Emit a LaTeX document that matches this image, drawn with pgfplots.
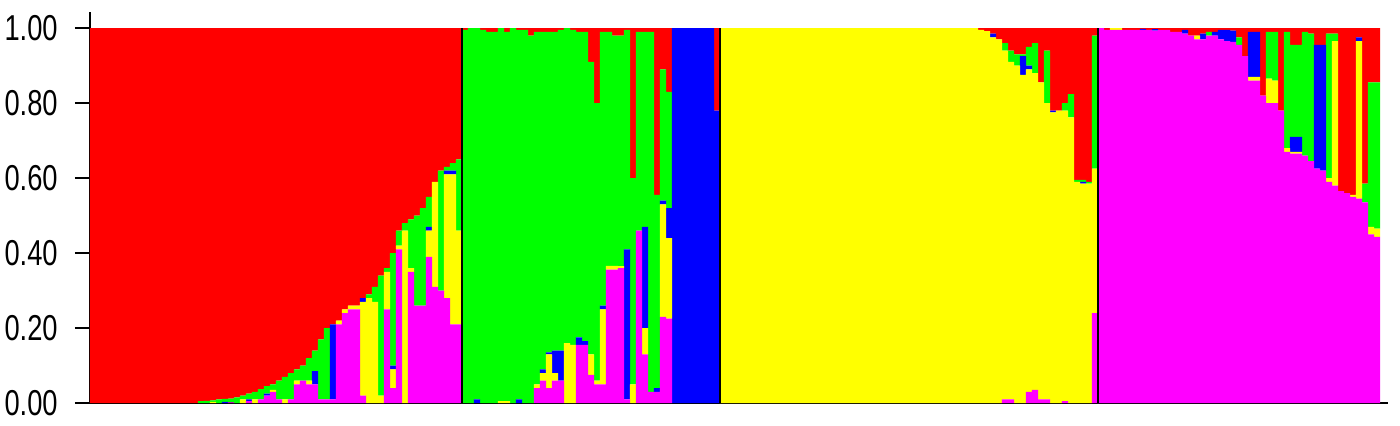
\documentclass[border=0pt]{standalone}
\usepackage{fontspec}
\setmainfont{Liberation Sans}
\usepackage{pgfplots}
\usepackage{pgfplotstable}
\pgfplotsset{compat=1.18}

\definecolor{cMag}{HTML}{FF00FF}
\definecolor{cYel}{HTML}{FFFF00}
\definecolor{cBlu}{HTML}{0000FF}
\definecolor{cGrn}{HTML}{00FF00}
\definecolor{cRed}{HTML}{FF0000}

% one row per individual: membership in each cluster (m=magenta, y=yellow, b=blue, g=green, r=red)
\pgfplotstableread{
i m y b g r
1 0 0 0 0 1
2 0 0 0 0 1
3 0 0 0 0 1
4 0 0 0 0 1
5 0 0 0 0 1
6 0 0 0 0 1
7 0 0 0 0 1
8 0 0 0 0 1
9 0 0 0 0 1
10 0 0 0 0 1
11 0 0 0 0 1
12 0 0 0 0 1
13 0 0 0 0 1
14 0 0 0 0 1
15 0 0 0 0 1
16 0 0 0 0 1
17 0 0 0 0 1
18 0 0 0 0 1
19 0 0 0 0.005 0.995
20 0 0 0 0.006 0.994
21 0 0.003 0 0.004 0.993
22 0 0 0 0.01 0.99
23 0 0 0.003 0.008 0.989
24 0.002 0 0 0.01 0.988
25 0 0 0 0.015 0.985
26 0 0.01 0 0.01 0.98
27 0.005 0 0.005 0.015 0.975
28 0 0.01 0 0.02 0.97
29 0.01 0 0 0.027 0.963
30 0.02 0 0.005 0.02 0.955
31 0.03 0.005 0 0.015 0.95
32 0.01 0 0 0.05 0.94
33 0 0.01 0 0.06 0.93
34 0.01 0 0 0.07 0.92
35 0.05 0.01 0 0.03 0.91
36 0.06 0 0 0.04 0.90
37 0.05 0.01 0 0.06 0.88
38 0.05 0 0.035 0.055 0.86
39 0.01 0 0 0.16 0.83
40 0.01 0 0 0.19 0.80
41 0.01 0 0.2 0 0.79
42 0.21 0.01 0 0 0.78
43 0.24 0.01 0 0 0.75
44 0.25 0.01 0 0 0.74
45 0.25 0.01 0 0 0.74
46 0.02 0.25 0.01 0 0.72
47 0 0.28 0 0.01 0.71
48 0 0.27 0 0.04 0.69
49 0 0.02 0 0.32 0.66
50 0.25 0.1 0 0.01 0.64
51 0.04 0.05 0.01 0.30 0.60
52 0.41 0.01 0 0.04 0.54
53 0 0.46 0 0.02 0.52
54 0.35 0.01 0 0.13 0.51
55 0.26 0 0 0.24 0.50
56 0.26 0 0 0.26 0.48
57 0.39 0.07 0.01 0.08 0.45
58 0.31 0.28 0 0 0.41
59 0.30 0 0 0.32 0.38
60 0.28 0.33 0.01 0.01 0.37
61 0.21 0.40 0.01 0.02 0.36
62 0.21 0.25 0 0.19 0.35
63 0 0 0 0.995 0.005
64 0 0 0 1 0
65 0 0 0.01 0.99 0
66 0 0 0 0.995 0.005
67 0 0 0 0.99 0.01
68 0 0 0 0.99 0.01
69 0 0.005 0 0.995 0
70 0 0.005 0 0.985 0.01
71 0 0 0 1 0
72 0 0 0.01 0.985 0.005
73 0 0 0 0.995 0.005
74 0 0 0 0.98 0.02
75 0.04 0.01 0 0.94 0.01
76 0.06 0.02 0.01 0.9 0.01
77 0.04 0.09 0.005 0.855 0.01
78 0.06 0.02 0.06 0.85 0.01
79 0.06 0 0.08 0.855 0.005
80 0 0.16 0 0.84 0
81 0 0.155 0 0.84 0.005
82 0.155 0 0.02 0.815 0.01
83 0.155 0 0.01 0.825 0.01
84 0.075 0.055 0 0.78 0.09
85 0.05 0.01 0 0.74 0.2
86 0.05 0.2 0.01 0.73 0.01
87 0.356 0.01 0 0.624 0.01
88 0.356 0.01 0 0.614 0.02
89 0.36 0.005 0 0.615 0.02
90 0.01 0 0.40 0.585 0.005
91 0 0.05 0 0.55 0.4
92 0.46 0 0 0.53 0.01
93 0.13 0.07 0.27 0.52 0.01
94 0.03 0 0 0.96 0.01
95 0.03 0 0.01 0.515 0.445
96 0.23 0.3 0.01 0.35 0.11
97 0.225 0.215 0.08 0.31 0.17
98 0 0 1 0 0
99 0 0 1 0 0
100 0 0 1 0 0
101 0 0 1 0 0
102 0 0 1 0 0
103 0 0 1 0 0
104 0 0 1 0 0
105 0 0 0.78 0 0.22
106 0 1 0 0 0
107 0 1 0 0 0
108 0 1 0 0 0
109 0 1 0 0 0
110 0 1 0 0 0
111 0 1 0 0 0
112 0 1 0 0 0
113 0 1 0 0 0
114 0 1 0 0 0
115 0 1 0 0 0
116 0 1 0 0 0
117 0 1 0 0 0
118 0 1 0 0 0
119 0 1 0 0 0
120 0 1 0 0 0
121 0 1 0 0 0
122 0 1 0 0 0
123 0 1 0 0 0
124 0 1 0 0 0
125 0 1 0 0 0
126 0 1 0 0 0
127 0 1 0 0 0
128 0 1 0 0 0
129 0 1 0 0 0
130 0 1 0 0 0
131 0 1 0 0 0
132 0 1 0 0 0
133 0 1 0 0 0
134 0 1 0 0 0
135 0 1 0 0 0
136 0 1 0 0 0
137 0 1 0 0 0
138 0 1 0 0 0
139 0 1 0 0 0
140 0 1 0 0 0
141 0 1 0 0 0
142 0 1 0 0 0
143 0 1 0 0 0
144 0 1 0 0 0
145 0 1 0 0 0
146 0 1 0 0 0
147 0 1 0 0 0
148 0 1 0 0 0
149 0 0.995 0 0 0.005
150 0 0.992 0 0 0.008
151 0 0.975 0.01 0 0.015
152 0 0.97 0 0 0.03
153 0.01 0.93 0 0.02 0.04
154 0.01 0.90 0 0.03 0.06
155 0 0.90 0 0.03 0.07
156 0 0.875 0.05 0.005 0.07
157 0.03 0.86 0.01 0.05 0.05
158 0.035 0.845 0 0.08 0.04
159 0.01 0.845 0 0 0.145
160 0.01 0.79 0 0.14 0.06
161 0 0.775 0.005 0 0.22
162 0 0.78 0 0 0.22
163 0.005 0.775 0 0.02 0.2
164 0 0.762 0 0.062 0.176
165 0 0.59 0 0.005 0.405
166 0 0.585 0.005 0.005 0.405
167 0 0.585 0 0.005 0.41
168 0.24 0.385 0 0.355 0.02
169 1 0 0 0 0
170 0.995 0 0 0 0.005
171 0.995 0.005 0 0 0
172 0.995 0.005 0 0 0
173 0.995 0 0 0 0.005
174 0.995 0 0 0 0.005
175 0.995 0 0 0 0.005
176 0.995 0 0.003 0 0.002
177 0.995 0 0 0 0.005
178 0.993 0 0.004 0 0.003
179 0.995 0 0 0 0.005
180 0.995 0 0 0 0.005
181 0.99 0 0 0 0.01
182 0.99 0 0 0 0.01
183 0.985 0 0.01 0 0.005
184 0.98 0 0 0 0.02
185 0.97 0.01 0 0 0.02
186 0.97 0 0.015 0 0.015
187 0.98 0 0 0.01 0.01
188 0.98 0 0.01 0 0.01
189 0.97 0 0.025 0 0.005
190 0.965 0 0.03 0 0.005
191 0.963 0 0.03 0 0.007
192 0.955 0 0 0.02 0.025
193 0.925 0 0 0 0.075
194 0.86 0.01 0.12 0 0.01
195 0.86 0.01 0.12 0 0.01
196 0.82 0 0 0 0.18
197 0.80 0.065 0 0.125 0.01
198 0.80 0.06 0 0.13 0.01
199 0.78 0 0 0 0.22
200 0.67 0.01 0 0.31 0.01
201 0.665 0.005 0.04 0.245 0.045
202 0.665 0.005 0.04 0.245 0.045
203 0.66 0 0 0.33 0.01
204 0.645 0 0 0.34 0.015
205 0.625 0 0.33 0 0.045
206 0.62 0 0.335 0 0.045
207 0.59 0.01 0 0.385 0.015
208 0.58 0.385 0 0.02 0.015
209 0.565 0 0 0 0.435
210 0.56 0 0 0 0.44
211 0.55 0.005 0 0 0.445
212 0.545 0.42 0.01 0 0.025
213 0.535 0 0 0.05 0.415
214 0.45 0.02 0 0.385 0.145
215 0.443 0.022 0 0.39 0.145
}\qdata

\begin{document}
\begin{tikzpicture}
\begin{axis}[
  name=ax,
  scale only axis, width=649pt, height=195.5pt,
  xmin=0.5, xmax=216.83, ymin=0, ymax=1.0427,
  enlargelimits=false,
  ybar stacked, bar width=1.05,
  axis x line*=bottom, axis y line*=left,
  axis line style={-, line width=1pt, black},
  xtick=\empty,
  ytick={0,0.2,0.4,0.6,0.8,1},
  tick align=outside, major tick length=7.5pt,
  ytick style={line width=1pt, black},
  /pgf/number format/assume math mode=true,
  yticklabel style={font=\fontsize{15}{15}\selectfont,
    xscale=0.91, yscale=1.2, xshift=-6pt,
    /pgf/number format/fixed, /pgf/number format/fixed zerofill,
    /pgf/number format/precision=2},
]
\addplot[fill=cMag, draw=none] table[x=i, y=m] {\qdata};
\addplot[fill=cYel, draw=none] table[x=i, y=y] {\qdata};
\addplot[fill=cBlu, draw=none] table[x=i, y=b] {\qdata};
\addplot[fill=cGrn, draw=none] table[x=i, y=g] {\qdata};
\addplot[fill=cRed, draw=none] table[x=i, y=r] {\qdata};
% group boundaries (drawn after the axis, on top of the bars)
\coordinate (s1a) at (axis cs:62.5,0);   \coordinate (s1b) at (axis cs:62.5,1);
\coordinate (s2a) at (axis cs:105.5,0);  \coordinate (s2b) at (axis cs:105.5,1);
\coordinate (s3a) at (axis cs:168.5,0);  \coordinate (s3b) at (axis cs:168.5,1);
\end{axis}
\draw[black, line width=0.7pt] (s1a) -- (s1b) (s2a) -- (s2b) (s3a) -- (s3b);
\pgfresetboundingbox
\path[use as bounding box] ([xshift=-45pt,yshift=-11pt]ax.south west) rectangle ([xshift=6pt,yshift=6pt]ax.north east);
\end{tikzpicture}
\end{document}
